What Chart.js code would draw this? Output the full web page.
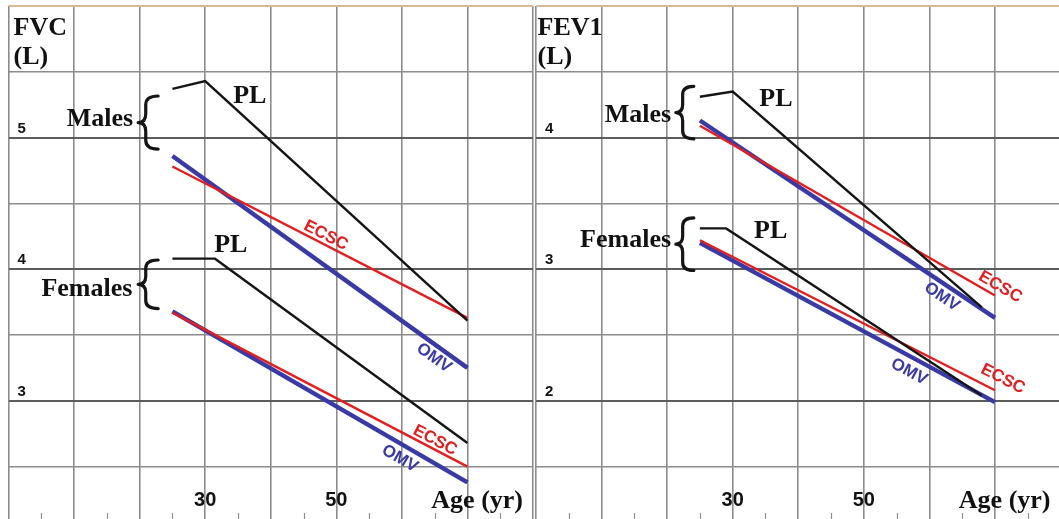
<!DOCTYPE html>
<html>
<head>
<meta charset="utf-8">
<script src="https://cdn.jsdelivr.net/npm/chart.js@4.4.1/dist/chart.umd.min.js"></script>
<style>
  html, body { margin: 0; padding: 0; background: #fff; overflow: hidden; }
  #wrap { position: relative; width: 1059px; height: 519px; overflow: hidden; background: #fff; }
  canvas { position: absolute; top: 0; }
  #fvc { left: 0; width: 536px; height: 519px; }
  #fev1 { left: 533px; width: 530px; height: 519px; }
</style>
</head>
<body>
<div id="wrap">
  <canvas id="fvc" width="536" height="519"></canvas>
  <canvas id="fev1" width="530" height="519"></canvas>
</div>
<script>
// ---- Reference equations: predicted lung volume (L) by age (yr) ----
const ages = [25, 70];

// FVC
const fvcMaleOMV = [4.86, 3.25];
const fvcMaleECSC = [4.78, 3.63];
const fvcMalePLAges = [25, 30, 70];
const fvcMalePL = [5.37, 5.43, 3.61];
const fvcFemaleOMV = [3.68, 2.38];
const fvcFemaleECSC = [3.67, 2.50];
const fvcFemalePLAges = [25, 31.5, 70];
const fvcFemalePL = [4.08, 4.08, 2.68];

// FEV1
const fev1MaleOMV = [4.13, 2.63];
const fev1MaleECSC = [4.09, 2.80];
const fev1MalePLAges = [25, 30, 68];
const fev1MalePL = [4.31, 4.35, 2.71];
const fev1FemaleOMV = [3.20, 1.99];
const fev1FemaleECSC = [3.22, 2.08];
const fev1FemalePLAges = [25, 29, 68];
const fev1FemalePL = [3.31, 3.31, 2.04];

// Axis labels and grid steps
const ageTickLabels = [30, 50];
const fvcTickLabels = [3, 4, 5];
const fev1TickLabels = [2, 3, 4];
const fvcGridValues = [2.5, 3, 3.5, 4, 4.5, 5, 5.5, 6];
const fev1GridValues = [1.5, 2, 2.5, 3, 3.5, 4, 4.5, 5];

// ---- Styling ----
const BLUE = '#3a3aa6';
const RED = '#e41e1e';
const BLACK = '#151515';
const GRID = '#8c8c8c';
const GRID_DARK = '#5c5c5c';
const TOP_EDGE = '#d9b896';
const SERIF = '"Liberation Serif", "Times New Roman", serif';
const SANS = '"Liberation Sans", Arial, sans-serif';

function pts(xs, ys) { return xs.map((x, i) => ({ x: x, y: ys[i] })); }

function lineSet(label, xs, ys, color, width, order) {
  return {
    label: label, data: pts(xs, ys), borderColor: color, backgroundColor: color,
    borderWidth: width, pointRadius: 0, tension: 0, fill: false, order: order,
    borderCapStyle: 'butt'
  };
}

// Annotations placed in data coordinates (age, litres), drawn through each chart's scales
const panelNotes = {
  fvc: {
    title: ['FVC', '(L)'], titleDx: 5,
    yLabels: fvcTickLabels,
    groups: [ { text: 'Males', x: 19.0, y: 5.088 }, { text: 'Females', x: 18.9, y: 3.80 } ],
    braces: [ { x: 21.3, top: 5.316, bottom: 4.913, w: 20 }, { x: 21.3, top: 4.07, bottom: 3.70, w: 20 } ],
    pl: [ { x: 36.8, y: 5.263 }, { x: 33.9, y: 4.127 } ],
    series: [
      { text: 'ECSC', ds: 2, x: 48.4, y: 4.256, color: RED },
      { text: 'OMV', ds: 4, x: 64.9, y: 3.325, color: BLUE },
      { text: 'ECSC', ds: 3, x: 65.05, y: 2.70, color: RED },
      { text: 'OMV', ds: 5, x: 59.7, y: 2.56, color: BLUE }
    ]
  },
  fev1: {
    title: ['FEV1', '(L)'], titleDx: 1.5,
    yLabels: fev1TickLabels,
    groups: [ { text: 'Males', x: 20.6, y: 4.12 }, { text: 'Females', x: 20.6, y: 3.17 } ],
    braces: [ { x: 22.7, top: 4.39, bottom: 3.99, w: 18 }, { x: 22.7, top: 3.39, bottom: 2.99, w: 18 } ],
    pl: [ { x: 36.6, y: 4.237 }, { x: 35.8, y: 3.237 } ],
    series: [
      { text: 'ECSC', ds: 2, x: 70.8, y: 2.865, color: RED },
      { text: 'OMV', ds: 4, x: 61.9, y: 2.79, color: BLUE },
      { text: 'ECSC', ds: 3, x: 71.2, y: 2.166, color: RED },
      { text: 'OMV', ds: 5, x: 56.9, y: 2.22, color: BLUE }
    ]
  }
};

function drawBrace(ctx, xc, top, bot, w) {
  const xl = xc - w / 2, xr = xc + w / 2;
  const xm = xl + w * 0.38;
  const mid = (top + bot) / 2;
  const r = Math.min(w * 0.45, (bot - top) / 6);
  ctx.beginPath();
  ctx.moveTo(xr, top);
  ctx.quadraticCurveTo(xm, top, xm, top + r);
  ctx.lineTo(xm, mid - r);
  ctx.quadraticCurveTo(xm, mid, xl, mid);
  ctx.quadraticCurveTo(xm, mid, xm, mid + r);
  ctx.lineTo(xm, bot - r);
  ctx.quadraticCurveTo(xm, bot, xr, bot);
  ctx.stroke();
}

const annotate = {
  id: 'annotate',
  afterDraw(chart) {
    const notes = panelNotes[chart.canvas.id];
    const { ctx, chartArea: ca } = chart;
    const xs = chart.scales.x, ys = chart.scales.y;
    ctx.save();

    // minor marks along the bottom edge, every odd 5 years
    ctx.strokeStyle = GRID; ctx.lineWidth = 1.2;
    for (let a = 5; a < 80; a += 10) {
      const px = Math.round(xs.getPixelForValue(a)) + 0.5;
      ctx.beginPath(); ctx.moveTo(px, ca.bottom - 6); ctx.lineTo(px, ca.bottom); ctx.stroke();
    }

    // y value labels, inside the plot just above their grid line
    ctx.fillStyle = '#111';
    ctx.font = 'bold 15px ' + SANS;
    ctx.textAlign = 'left'; ctx.textBaseline = 'middle';
    notes.yLabels.forEach(v => ctx.fillText(String(v), ca.left + 9, ys.getPixelForValue(v) - 9));

    // age labels near the bottom
    ctx.font = 'bold 20px ' + SANS;
    ctx.textAlign = 'center';
    ageTickLabels.forEach(a => ctx.fillText(String(a), xs.getPixelForValue(a), ca.bottom - 19));

    // axis titles
    ctx.font = 'bold 26px ' + SERIF;
    ctx.textAlign = 'left'; ctx.textBaseline = 'alphabetic';
    ctx.fillText(notes.title[0], ca.left + notes.titleDx, ca.top + 29);
    ctx.fillText(notes.title[1], ca.left + notes.titleDx, ca.top + 58);
    ctx.textAlign = 'right';
    ctx.fillText('Age (yr)', ca.right - 10, ca.bottom - 11);

    // group labels with braces
    notes.groups.forEach(g => ctx.fillText(g.text, xs.getPixelForValue(g.x), ys.getPixelForValue(g.y)));
    ctx.strokeStyle = BLACK; ctx.lineWidth = 3.2; ctx.lineCap = 'round'; ctx.lineJoin = 'round';
    notes.braces.forEach(b => drawBrace(ctx, xs.getPixelForValue(b.x), ys.getPixelForValue(b.top), ys.getPixelForValue(b.bottom), b.w));

    // PL labels
    ctx.textAlign = 'center';
    notes.pl.forEach(p => ctx.fillText('PL', xs.getPixelForValue(p.x), ys.getPixelForValue(p.y)));

    // series labels rotated along their own line
    ctx.font = 'bold 17px ' + SANS;
    ctx.textBaseline = 'middle';
    notes.series.forEach(s => {
      const d = chart.data.datasets[s.ds].data;
      const p0 = d[0], p1 = d[d.length - 1];
      const ang = Math.atan2(ys.getPixelForValue(p1.y) - ys.getPixelForValue(p0.y),
                             xs.getPixelForValue(p1.x) - xs.getPixelForValue(p0.x));
      ctx.save();
      ctx.translate(xs.getPixelForValue(s.x), ys.getPixelForValue(s.y));
      ctx.rotate(ang);
      ctx.fillStyle = s.color;
      ctx.fillText(s.text, 0, 0);
      ctx.restore();
    });
    ctx.restore();
  }
};

function makePanel(id, series, yMin, yMax, gridValues, pad) {
  return new Chart(document.getElementById(id), {
    type: 'line',
    data: {
      datasets: [
        lineSet('PL males', series.plMaleAges, series.plMale, BLACK, 2.4, 0),
        lineSet('PL females', series.plFemaleAges, series.plFemale, BLACK, 2.4, 0),
        lineSet('ECSC males', ages, series.ecscMale, RED, 2.4, 1),
        lineSet('ECSC females', ages, series.ecscFemale, RED, 2.4, 1),
        lineSet('OMV males', ages, series.omvMale, BLUE, 4.4, 2),
        lineSet('OMV females', ages, series.omvFemale, BLUE, 4.4, 2)
      ]
    },
    options: {
      responsive: false,
      animation: false,
      events: [],
      layout: { padding: { left: pad.left, right: pad.right, top: 6, bottom: 0 } },
      plugins: { legend: { display: false }, tooltip: { enabled: false } },
      scales: {
        x: {
          type: 'linear', min: 0, max: 80, bounds: 'data',
          ticks: { display: false, stepSize: 10 },
          grid: { drawTicks: false, color: GRID, lineWidth: 1.6 },
          border: { display: false }
        },
        y: {
          type: 'linear', min: yMin, max: yMax, bounds: 'data',
          ticks: { display: false, stepSize: 0.5 },
          afterBuildTicks: scale => { scale.ticks = gridValues.map(v => ({ value: v })); },
          grid: {
            drawTicks: false,
            color: c => c.tick && c.tick.value === yMax ? TOP_EDGE
                      : (c.tick && Number.isInteger(c.tick.value) ? GRID_DARK : GRID),
            lineWidth: c => c.tick && Number.isInteger(c.tick.value) ? 2 : 1.6
          },
          border: { display: false }
        }
      }
    },
    plugins: [annotate]
  });
}

makePanel('fvc', {
  plMaleAges: fvcMalePLAges, plMale: fvcMalePL,
  plFemaleAges: fvcFemalePLAges, plFemale: fvcFemalePL,
  ecscMale: fvcMaleECSC, ecscFemale: fvcFemaleECSC,
  omvMale: fvcMaleOMV, omvFemale: fvcFemaleOMV
}, 6 - 513 / 131.6, 6, fvcGridValues, { left: 8.5, right: 3 });

makePanel('fev1', {
  plMaleAges: fev1MalePLAges, plMale: fev1MalePL,
  plFemaleAges: fev1FemalePLAges, plFemale: fev1FemalePL,
  ecscMale: fev1MaleECSC, ecscFemale: fev1FemaleECSC,
  omvMale: fev1MaleOMV, omvFemale: fev1FemaleOMV
}, 5 - 513 / 131.6, 5, fev1GridValues, { left: 3, right: 2.5 });
</script>
</body>
</html>
